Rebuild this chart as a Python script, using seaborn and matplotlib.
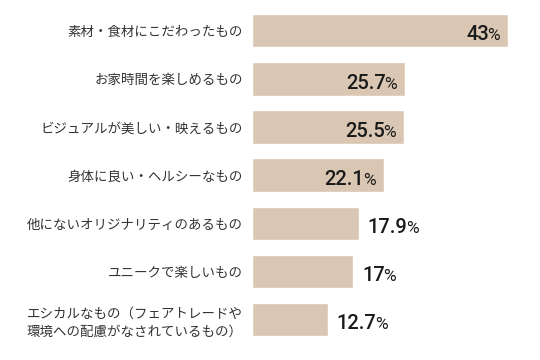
import matplotlib
matplotlib.use("Agg")
import matplotlib.pyplot as plt
import seaborn as sns
import pandas as pd

categories = [
    "素材・食材にこだわったもの",
    "お家時間を楽しめるもの",
    "ビジュアルが美しい・映えるもの",
    "身体に良い・ヘルシーなもの",
    "他にないオリジナリティのあるもの",
    "ユニークで楽しいもの",
    "エシカルなもの（フェアトレードや\n環境への配慮がなされているもの）",
]
values = [43, 25.7, 25.5, 22.1, 17.9, 17, 12.7]
value_labels = ["43", "25.7", "25.5", "22.1", "17.9", "17", "12.7"]
inside = [True, True, True, True, False, False, False]

sns.set_theme(style="white")
plt.rcParams["font.family"] = ["Noto Sans CJK JP", "DejaVu Sans"]

df = pd.DataFrame({"cat": categories, "val": values})

fig = plt.figure(figsize=(5.4, 3.6), dpi=100)
ax_left = 252 / 540
ax_right = 530 / 540
ax = fig.add_axes([ax_left, 16.4 / 360, ax_right - ax_left, 336.9 / 360])

sns.barplot(data=df, y="cat", x="val", orient="h", color="#d9c6b3",
            saturation=1, width=0.695, ax=ax)

px_per_unit = 256 / 43
ax.set_xlim(0, (530 - 252) / px_per_unit)
ax.set_ylim(6.5, -0.5)
ax.set_xlabel("")
ax.set_ylabel("")
ax.set_xticks([])
for s in ax.spines.values():
    s.set_visible(False)
ax.tick_params(axis="y", length=0, pad=6.5, labelsize=9.7, labelcolor="#333333")
for lab in ax.get_yticklabels():
    lab.set_linespacing(1.35)

num_font = dict(family=["Roboto", "DejaVu Sans"], fontsize=14.5, weight="medium", color="#1a1a1a")
pct_font = dict(family=["Roboto", "DejaVu Sans"], fontsize=12.5, color="#1a1a1a")

fig.canvas.draw()
renderer = fig.canvas.get_renderer()
inv = ax.transData.inverted()
base_off = 0.2

for i, (v, lab, ins) in enumerate(zip(values, value_labels, inside)):
    y = i + base_off
    if ins:
        pct = ax.text(v - 8 / px_per_unit, y, "%", ha="right", va="baseline", **pct_font)
        bb = pct.get_window_extent(renderer)
        xd = inv.transform((bb.x0 + 1.5, 0))[0]
        ax.text(xd, y, lab, ha="right", va="baseline", **num_font)
    else:
        num = ax.text(v + 9 / px_per_unit, y, lab, ha="left", va="baseline", **num_font)
        bb = num.get_window_extent(renderer)
        xd = inv.transform((bb.x1 - 1.5, 0))[0]
        ax.text(xd, y, "%", ha="left", va="baseline", **pct_font)

fig.savefig("out.png", dpi=100, facecolor="white")
